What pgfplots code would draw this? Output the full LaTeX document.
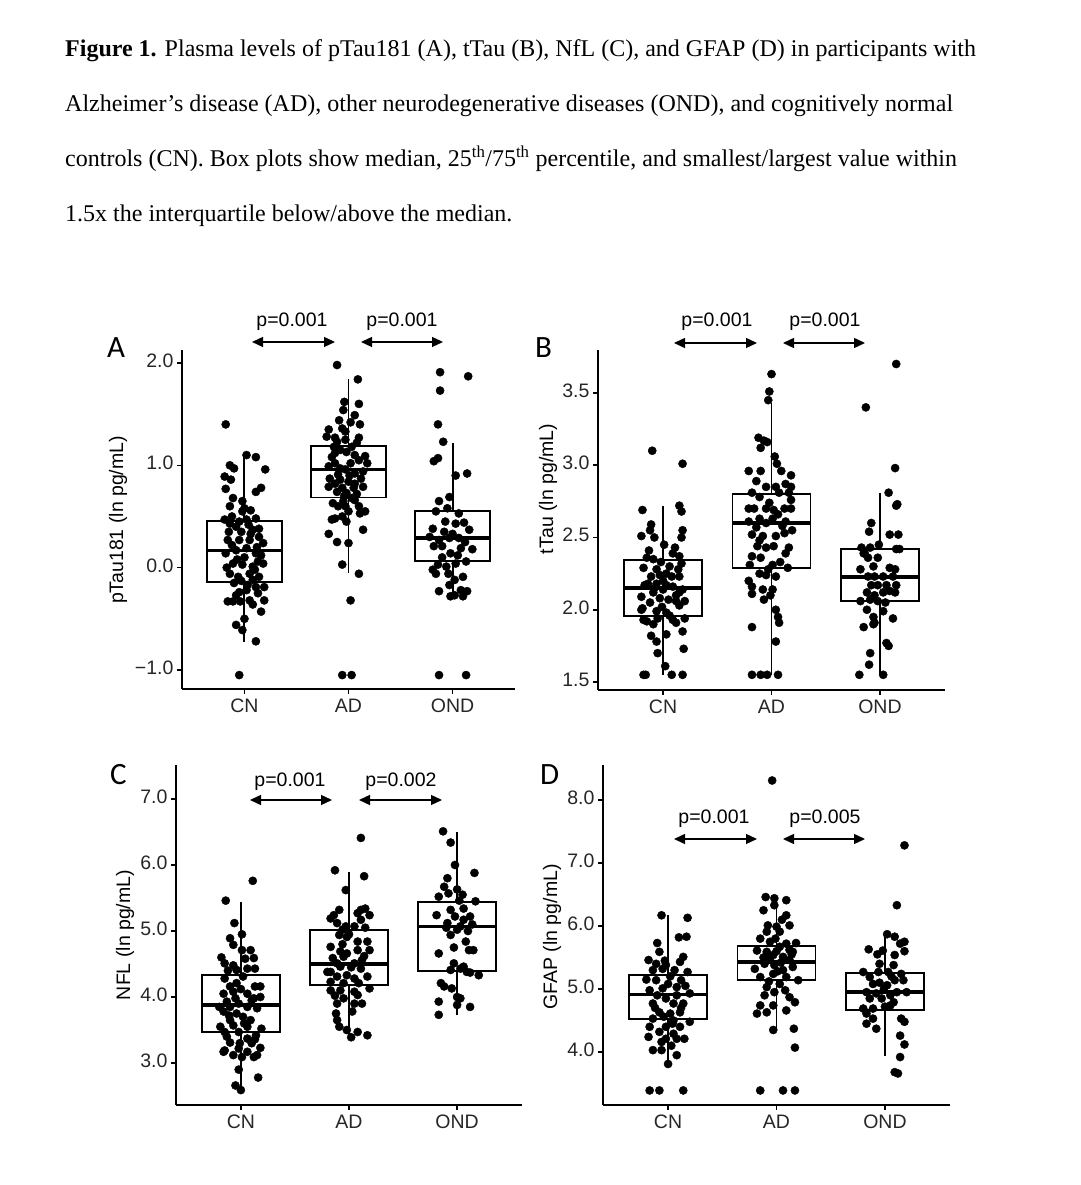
\documentclass[border=0pt]{standalone}
\usepackage{fontspec}
\setmainfont{Liberation Serif}
\newfontfamily\arial{Liberation Sans}
\newfontfamily\calibri{Carlito}
\usepackage{pgfplots}
\pgfplotsset{compat=1.18}
\usepgfplotslibrary{statistics}
\usetikzlibrary{arrows.meta}

\newcommand\tf{\arial\fontsize{19.5}{22}\selectfont}
\newcommand\capf{\fontsize{24}{27}\selectfont}
\newcommand\letf{\calibri\fontsize{31}{34}\selectfont}

\pgfplotsset{
  panel/.style={
    scale only axis, clip=false,
    xmin=0.4, xmax=3.6,
    axis x line*=bottom, axis y line*=left,
    axis line style={line width=1.8pt,-},
    tick align=outside, major tick length=5pt,
    tick style={line width=1.6pt, black},
    xtick={1,2,3}, xticklabels={CN,AD,OND},
    tick label style={font=\tf, text=black!85},
    typeset ticklabels with strut,
    boxplot/draw direction=y,
    boxplot/box extend=0.72, boxplot/whisker extend=0,
    boxplot/every median/.style={line width=3.4pt},
  },
  bx/.style={draw=black, line width=1.9pt, solid, mark=none},
  pts/.style={only marks, mark=*, mark size=4.1pt, black, mark options={draw=none, fill=black}},
}
\tikzset{parr/.style={line width=1.3pt, {Triangle[length=11pt,width=10pt]}-{Triangle[length=11pt,width=10pt]}}}

\begin{document}
\begin{tikzpicture}[x=1pt,y=1pt]
\path[use as bounding box] (0,0) rectangle (1080,1185);

% caption
\node[anchor=base west, inner sep=0] at (65,1128) {\capf\textbf{Figure 1.} Plasma levels of pTau181 (A), tTau (B), NfL (C), and GFAP (D) in participants with};
\node[anchor=base west, inner sep=0] at (65,1073) {\capf Alzheimer’s disease (AD), other neurodegenerative diseases (OND), and cognitively normal};
\node[anchor=base west, inner sep=0] at (65,1018) {\capf controls (CN). Box plots show median, 25\textsuperscript{th}/75\textsuperscript{th} percentile, and smallest/largest value within};
\node[anchor=base west, inner sep=0] at (65,963) {\capf 1.5x the interquartile below/above the median.};

% ---------------- Panel A ----------------
\begin{axis}[panel, at={(182pt,496pt)}, anchor=south west, width=333pt, height=339pt,
  ymin=-1.186, ymax=2.127, ytick={-1,0,1,2}, yticklabels={−1.0,0.0,1.0,2.0}]
\addplot[bx, boxplot prepared={draw position=1, median=0.166, upper quartile=0.453, lower quartile=-0.14, upper whisker=1.11, lower whisker=-0.724}] coordinates {};
\addplot[bx, boxplot prepared={draw position=2, median=0.96, upper quartile=1.19, lower quartile=0.685, upper whisker=1.84, lower whisker=-0.055}] coordinates {};
\addplot[bx, boxplot prepared={draw position=3, median=0.29, upper quartile=0.55, lower quartile=0.065, upper whisker=1.22, lower whisker=-0.28}] coordinates {};
\addplot[pts] coordinates {
(0.82,1.40)(1.02,1.10)(1.11,1.08)(1.20,0.96)(0.86,1.00)(0.90,0.97)(0.81,0.89)(0.87,0.86)(0.82,0.77)(1.11,0.74)
(1.16,0.78)(0.89,0.68)(0.98,0.65)(1.06,0.56)(0.98,0.55)(0.81,0.47)(0.86,0.43)(0.92,0.40)(1.02,0.47)(1.11,0.48)
(1.08,0.37)(1.14,0.38)(0.88,0.50)(0.95,0.45)(1.14,0.30)(1.18,0.24)(1.11,0.14)(1.02,0.19)(0.92,0.17)(0.82,0.14)
(0.84,0.27)(0.95,0.27)(1.05,0.27)(0.89,0.04)(0.98,0.03)(1.18,0.04)(1.08,0.01)(1.13,0.06)(0.86,-0.06)(0.94,-0.09)
(1.05,-0.06)(1.14,-0.09)(0.90,-0.15)(1.03,-0.17)(1.02,-0.22)(1.11,-0.19)(1.19,-0.19)(1.13,-0.25)(0.92,-0.27)(0.89,-0.33)
(0.96,-0.33)(1.05,-0.32)(1.19,-0.32)(1.16,-0.43)(1.00,-0.50)(0.92,-0.56)(0.98,-0.61)(1.11,-0.72)(0.95,-1.05)
(0.97,0.35)(1.06,0.33)(0.85,0.35)(1.16,0.12)(0.93,0.08)(1.00,0.10)(1.10,-0.02)(0.83,0.00)(0.97,-0.13)(1.08,-0.12)
(0.86,0.60)(1.00,0.58)(1.04,0.42)(0.88,0.22)(1.12,0.20)(0.95,-0.24)(1.08,-0.36)(0.84,-0.33)
};
\addplot[pts] coordinates {
(1.89,1.98)(2.09,1.84)(1.96,1.62)(2.10,1.60)(1.95,1.54)(2.06,1.49)(1.91,1.44)(2.02,1.42)(2.11,1.40)(1.81,1.35)
(1.94,1.36)(1.97,1.33)(1.79,1.28)(1.87,1.27)(2.10,1.27)(1.97,1.25)(1.89,1.23)(1.86,1.18)(2.03,1.18)(1.92,1.15)
(1.98,1.13)(1.87,1.12)(2.06,1.10)(2.16,1.09)(2.10,1.05)(1.87,1.02)(2.02,1.02)(2.18,1.02)(1.81,0.99)(1.92,0.97)
(1.97,0.96)(2.06,0.92)(2.14,0.94)(1.82,0.87)(1.92,0.86)(2.00,0.84)(2.06,0.82)(1.87,0.82)(1.81,0.79)(1.94,0.78)
(2.05,0.78)(2.14,0.79)(1.89,0.74)(1.98,0.73)(2.03,0.68)(1.95,0.65)(2.06,0.66)(1.97,0.60)(2.10,0.60)(2.16,0.55)
(2.11,0.53)(1.87,0.48)(1.94,0.50)(1.84,0.47)(1.98,0.45)(1.81,0.33)(1.89,0.25)(2.00,0.24)(2.14,0.37)(1.94,0.03)
(2.10,-0.06)(2.02,-0.32)(1.94,-1.05)(2.03,-1.05)
(2.08,1.22)(1.84,1.08)(2.12,0.87)(1.90,0.91)(2.01,0.90)(1.96,0.70)(2.08,0.72)(1.85,0.63)(2.00,0.55)(1.90,0.60)
};
\addplot[pts] coordinates {
(2.88,1.91)(3.15,1.87)(2.88,1.73)(2.86,1.40)(2.91,1.23)(2.86,1.07)(2.82,1.04)(3.03,0.90)(3.14,0.92)(2.97,0.69)
(2.87,0.65)(2.84,0.55)(2.95,0.58)(3.06,0.53)(2.81,0.38)(2.92,0.35)(3.03,0.43)(3.11,0.44)(3.16,0.37)(2.78,0.30)
(2.87,0.27)(2.97,0.29)(3.06,0.29)(2.82,0.21)(2.90,0.21)(2.98,0.14)(3.08,0.19)(3.19,0.18)(2.94,0.01)(2.86,0.03)
(3.13,0.06)(3.03,0.04)(2.81,-0.02)(2.84,-0.06)(3.10,-0.09)(3.02,-0.12)(2.97,-0.17)(3.08,-0.22)(2.87,-0.23)(3.14,-0.23)
(3.02,-0.27)(3.10,-0.28)(2.98,-0.28)(2.87,-1.05)(3.13,-1.05)
(2.93,0.45)(3.00,0.33)(3.12,0.25)(2.90,0.10)(3.05,0.12)(2.96,-0.06)
};
\end{axis}

% ---------------- Panel B ----------------
\begin{axis}[panel, at={(598pt,495pt)}, anchor=south west, width=347pt, height=340pt,
  ymin=1.445, ymax=3.797, ytick={1.5,2,2.5,3,3.5}, yticklabels={1.5,2.0,2.5,3.0,3.5}]
\addplot[bx, boxplot prepared={draw position=1, median=2.15, upper quartile=2.346, lower quartile=1.958, upper whisker=2.72, lower whisker=1.55}] coordinates {};
\addplot[bx, boxplot prepared={draw position=2, median=2.60, upper quartile=2.80, lower quartile=2.29, upper whisker=3.43, lower whisker=1.55}] coordinates {};
\addplot[bx, boxplot prepared={draw position=3, median=2.226, upper quartile=2.42, lower quartile=2.062, upper whisker=2.81, lower whisker=1.55}] coordinates {};
\addplot[pts] coordinates {
(0.90,3.10)(1.18,3.01)(0.81,2.69)(1.15,2.72)(1.17,2.68)(0.89,2.59)(0.88,2.55)(0.80,2.51)(0.92,2.50)(1.18,2.55)
(1.17,2.50)(1.01,2.45)(1.11,2.43)(1.09,2.39)(0.85,2.36)(0.91,2.35)(1.15,2.37)(1.17,2.32)(0.82,2.29)(0.94,2.28)
(1.03,2.25)(0.97,2.24)(0.89,2.23)(1.08,2.23)(1.15,2.23)(0.86,2.18)(0.83,2.17)(0.94,2.18)(1.03,2.17)(1.09,2.16)
(1.00,2.14)(0.91,2.12)(1.15,2.12)(1.18,2.14)(0.80,2.09)(0.97,2.08)(1.05,2.07)(1.12,2.06)(1.20,2.06)(1.15,2.03)
(0.81,2.01)(0.80,2.00)(0.94,1.99)(1.03,1.98)(0.95,1.94)(1.09,1.93)(1.20,1.94)(0.82,1.93)(0.85,1.92)(1.12,1.91)
(0.91,1.90)(0.89,1.82)(0.94,1.78)(1.03,1.83)(1.18,1.85)(0.95,1.70)(1.19,1.73)(1.02,1.61)(0.82,1.55)(0.84,1.55)
(1.08,1.55)(1.18,1.55)
(0.98,2.33)(1.06,2.30)(0.87,2.41)(1.00,2.20)(1.12,2.10)(0.88,2.05)(1.06,1.96)(0.99,2.02)(1.14,2.28)(0.92,2.15)
};
\addplot[pts] coordinates {
(2.00,3.63)(1.98,3.51)(1.97,3.45)(1.88,3.19)(1.96,3.16)(1.93,3.17)(1.90,3.12)(2.03,3.06)(2.05,3.01)(1.79,2.96)
(1.90,2.96)(2.09,2.96)(2.18,2.93)(1.86,2.89)(1.95,2.85)(2.04,2.85)(2.13,2.87)(2.18,2.85)(1.82,2.81)(1.89,2.78)
(2.07,2.81)(2.16,2.81)(2.18,2.76)(1.79,2.70)(1.84,2.70)(1.95,2.70)(2.02,2.69)(2.12,2.70)(2.18,2.70)(2.06,2.66)
(1.89,2.63)(2.01,2.63)(1.79,2.61)(1.95,2.60)(2.13,2.61)(1.82,2.52)(1.92,2.51)(2.04,2.51)(2.12,2.53)(1.89,2.48)
(2.19,2.55)(1.95,2.43)(2.02,2.44)(2.16,2.43)(2.13,2.39)(1.87,2.44)(1.82,2.37)(1.90,2.36)(1.80,2.31)(2.01,2.31)
(2.15,2.29)(1.89,2.25)(1.95,2.24)(1.79,2.20)(2.04,2.23)(1.82,2.16)(1.92,2.14)(2.01,2.14)(1.82,2.11)(1.99,2.10)
(1.93,2.07)(2.04,2.00)(2.06,1.95)(2.07,1.91)(1.82,1.88)(2.04,1.78)(1.82,1.55)(1.90,1.55)(1.96,1.55)(2.06,1.55)
(2.10,2.58)(1.86,2.57)(1.98,2.74)(2.08,2.33)(1.97,2.28)
};
\addplot[pts] coordinates {
(3.15,3.70)(2.87,3.40)(3.14,2.98)(3.08,2.81)(3.16,2.73)(3.15,2.72)(2.92,2.60)(2.90,2.54)(3.09,2.52)(3.17,2.52)
(2.99,2.45)(2.83,2.43)(2.91,2.43)(2.86,2.39)(3.15,2.42)(3.18,2.42)(2.98,2.36)(2.89,2.36)(2.85,2.39)(2.94,2.30)
(2.82,2.28)(3.09,2.29)(3.14,2.28)(2.89,2.23)(2.95,2.23)(3.03,2.23)(3.12,2.23)(2.92,2.17)(2.98,2.17)(3.06,2.17)
(3.15,2.17)(2.88,2.12)(2.95,2.10)(3.03,2.12)(3.09,2.13)(3.14,2.12)(2.82,2.06)(2.91,2.07)(2.98,2.06)(3.05,2.05)
(2.88,2.00)(3.03,1.99)(2.94,1.95)(3.12,1.94)(2.95,1.91)(2.85,1.88)(2.94,1.90)(3.06,1.77)(3.08,1.75)(2.91,1.70)
(2.90,1.62)(2.81,1.55)(3.03,1.55)
};
\end{axis}

% ---------------- Panel C ----------------
\begin{axis}[panel, at={(176pt,80pt)}, anchor=south west, width=346pt, height=340pt,
  ymin=2.364, ymax=7.515, ytick={3,4,5,6,7}, yticklabels={3.0,4.0,5.0,6.0,7.0}]
\addplot[bx, boxplot prepared={draw position=1, median=3.877, upper quartile=4.333, lower quartile=3.473, upper whisker=5.445, lower whisker=2.588}] coordinates {};
\addplot[bx, boxplot prepared={draw position=2, median=4.499, upper quartile=5.015, lower quartile=4.181, upper whisker=5.90, lower whisker=3.397}] coordinates {};
\addplot[bx, boxplot prepared={draw position=3, median=5.066, upper quartile=5.445, lower quartile=4.393, upper whisker=6.507, lower whisker=3.726}] coordinates {};
\addplot[pts] coordinates {
(1.11,5.76)(0.86,5.46)(0.94,5.12)(0.90,4.89)(1.01,4.95)(0.93,4.79)(0.82,4.60)(1.01,4.71)(1.09,4.71)(1.12,4.59)
(0.85,4.51)(0.93,4.48)(0.96,4.41)(1.06,4.43)(1.13,4.43)(0.85,4.28)(1.02,4.31)(0.96,4.21)(0.90,4.16)(1.13,4.16)
(1.18,4.16)(0.84,4.05)(0.93,4.08)(1.06,4.05)(1.12,3.98)(1.18,4.00)(0.87,3.93)(0.98,3.90)(0.90,3.85)(0.80,3.85)
(1.06,3.85)(1.15,3.83)(0.84,3.78)(0.96,3.75)(1.02,3.70)(0.90,3.65)(1.09,3.65)(0.81,3.55)(0.93,3.57)(1.06,3.55)
(1.19,3.52)(0.85,3.47)(0.98,3.47)(0.87,3.40)(1.06,3.37)(1.13,3.36)(0.90,3.31)(0.99,3.30)(1.10,3.30)(0.85,3.19)
(0.98,3.22)(1.06,3.17)(1.18,3.23)(1.15,3.12)(0.93,3.12)(0.84,3.17)(1.01,3.09)(1.12,3.09)(0.98,2.90)(1.16,2.78)
(0.95,2.66)(1.00,2.59)
(1.04,4.58)(0.88,4.40)(1.10,3.95)(0.95,3.98)(1.03,3.60)(0.89,3.72)(1.14,3.42)(1.00,4.12)
};
\addplot[pts] coordinates {
(2.11,6.41)(1.87,5.92)(2.14,5.83)(1.97,5.62)(1.91,5.32)(1.86,5.24)(1.83,5.19)(2.11,5.32)(2.15,5.34)(2.19,5.24)
(2.08,5.27)(2.11,5.17)(1.89,5.12)(1.97,5.07)(1.94,5.02)(2.05,5.07)(1.91,4.94)(1.98,4.91)(2.08,4.84)(2.17,4.84)
(1.83,4.76)(1.92,4.69)(1.98,4.66)(2.19,4.71)(2.08,4.71)(1.85,4.59)(1.95,4.61)(1.89,4.51)(2.05,4.51)(2.12,4.56)
(1.92,4.46)(1.83,4.38)(2.11,4.43)(1.80,4.38)(1.89,4.31)(1.98,4.33)(2.05,4.28)(2.17,4.31)(1.83,4.23)(1.95,4.21)
(2.09,4.21)(2.19,4.13)(1.92,4.10)(2.05,4.08)(1.83,4.10)(2.08,4.03)(1.95,3.98)(1.89,3.90)(2.12,3.90)(2.05,3.90)
(2.03,3.78)(1.88,3.75)(1.89,3.65)(1.91,3.55)(1.98,3.50)(2.08,3.47)(2.02,3.39)(2.17,3.42)
(1.94,4.80)(2.02,4.45)(2.14,4.62)(1.87,4.02)(2.00,4.95)(2.15,5.05)
};
\addplot[pts] coordinates {
(2.87,6.51)(2.94,6.34)(2.98,6.00)(3.16,5.88)(2.91,5.80)(2.88,5.67)(3.00,5.63)(2.92,5.57)(2.83,5.52)(3.02,5.46)
(3.17,5.45)(2.81,5.24)(2.94,5.32)(3.06,5.34)(3.12,5.22)(2.98,5.22)(2.91,5.12)(3.03,5.07)(3.06,5.17)(2.94,4.94)
(3.00,5.02)(3.08,4.84)(3.15,4.71)(3.11,4.71)(2.83,4.66)(2.97,4.51)(3.06,4.46)(3.09,4.38)(2.94,4.41)(3.03,4.43)
(3.20,4.33)(3.12,4.37)(2.85,4.21)(2.88,4.16)(2.95,4.13)(3.00,4.00)(2.83,3.93)(3.03,3.98)(3.00,3.88)(3.12,3.85)
(2.83,3.73)
(3.05,5.55)(2.90,5.05)(3.10,5.00)(2.97,4.75)(3.14,5.10)
};
\end{axis}

% ---------------- Panel D ----------------
\begin{axis}[panel, at={(603pt,80pt)}, anchor=south west, width=347pt, height=340pt,
  ymin=3.159, ymax=8.556, ytick={4,5,6,7,8}, yticklabels={4.0,5.0,6.0,7.0,8.0}]
\addplot[bx, boxplot prepared={draw position=1, median=4.91, upper quartile=5.217, lower quartile=4.528, upper whisker=6.171, lower whisker=3.813}] coordinates {};
\addplot[bx, boxplot prepared={draw position=2, median=5.429, upper quartile=5.683, lower quartile=5.148, upper whisker=6.40, lower whisker=4.37}] coordinates {};
\addplot[bx, boxplot prepared={draw position=3, median=4.952, upper quartile=5.26, lower quartile=4.672, upper whisker=5.87, lower whisker=3.93}] coordinates {};
\addplot[pts] coordinates {
(0.94,6.17)(1.18,6.13)(1.10,5.82)(1.17,5.83)(0.90,5.73)(0.92,5.59)(0.82,5.46)(0.89,5.40)(0.98,5.38)(1.14,5.51)
(1.11,5.43)(0.86,5.30)(0.95,5.32)(1.06,5.30)(1.18,5.27)(0.80,5.15)(0.89,5.14)(1.00,5.08)(1.12,5.14)(1.08,5.03)
(0.83,4.98)(0.95,5.01)(1.08,4.90)(1.20,4.93)(0.86,4.77)(0.98,4.85)(1.05,4.77)(1.14,4.77)(0.92,4.63)(1.02,4.61)
(1.11,4.63)(1.20,4.48)(0.86,4.53)(1.05,4.50)(0.98,4.40)(1.11,4.40)(0.83,4.40)(0.92,4.32)(1.05,4.29)(0.82,4.24)
(1.08,4.21)(1.15,4.21)(0.98,4.21)(1.03,4.10)(0.94,4.16)(0.86,4.03)(0.94,4.03)(1.08,3.95)(1.00,3.81)(0.83,3.39)
(0.92,3.39)(1.14,3.39)
(1.02,5.20)(0.90,4.90)(1.12,4.70)(0.96,4.56)(1.16,5.05)(0.88,4.70)(1.04,4.45)(0.97,5.45)
};
\addplot[pts] coordinates {
(1.96,8.31)(1.90,6.46)(1.98,6.44)(2.09,6.41)(1.88,6.25)(1.98,6.33)(2.09,6.17)(1.92,6.01)(2.00,5.99)(2.12,6.01)
(1.91,5.91)(2.03,5.91)(1.85,5.80)(1.94,5.75)(2.03,5.67)(2.09,5.72)(2.18,5.73)(1.82,5.61)(1.91,5.59)(2.15,5.59)
(1.97,5.54)(2.06,5.51)(2.12,5.46)(1.89,5.40)(1.98,5.38)(2.15,5.35)(1.80,5.32)(2.06,5.30)(1.85,5.19)(1.97,5.24)
(2.09,5.19)(2.20,5.14)(2.03,5.08)(1.91,5.03)(2.08,4.98)(1.98,4.95)(2.12,4.87)(1.89,4.90)(1.97,4.74)(1.85,4.74)
(1.82,4.61)(1.91,4.63)(2.17,4.79)(2.09,4.66)(1.97,4.35)(2.16,4.37)(2.17,4.07)(1.85,3.39)(2.06,3.39)(2.17,3.39)
(2.00,5.60)(1.94,5.48)(2.04,5.42)(1.88,5.50)(2.14,5.55)(2.01,5.28)(1.93,5.12)(2.12,5.62)(1.99,5.80)(2.05,6.10)
};
\addplot[pts] coordinates {
(3.18,7.28)(3.11,6.33)(3.02,5.87)(3.09,5.83)(3.14,5.72)(3.18,5.75)(2.85,5.63)(2.98,5.61)(3.09,5.54)(3.18,5.60)
(2.95,5.40)(3.08,5.38)(2.80,5.27)(2.86,5.19)(2.94,5.27)(3.03,5.27)(3.15,5.24)(2.89,5.08)(3.02,5.06)(3.09,5.14)
(3.17,5.14)(2.83,4.95)(2.92,4.93)(3.05,4.90)(3.11,4.95)(3.20,4.95)(2.86,4.85)(2.97,4.85)(3.08,4.79)(2.80,4.69)
(2.89,4.69)(3.05,4.74)(2.83,4.61)(2.89,4.53)(3.15,4.53)(3.18,4.48)(2.83,4.45)(2.92,4.37)(3.14,4.26)(3.18,4.12)
(3.14,3.92)(3.09,3.68)(3.12,3.66)
(2.99,5.00)(3.06,5.20)(2.93,5.55)(3.00,4.72)(2.95,5.10)
};
\end{axis}

% y axis titles
\node[rotate=90, inner sep=0] at (118,665) {\tf pTau181 (ln pg/mL)};
\node[rotate=90, inner sep=0] at (548,696) {\tf tTau (ln pg/mL)};
\node[rotate=90, inner sep=0] at (125,250) {\tf NFL (ln pg/mL)};
\node[rotate=90, inner sep=0] at (552,248) {\tf GFAP (ln pg/mL)};

% panel letters
\node[anchor=base west, inner sep=0] at (107,827) {\letf A};
\node[anchor=base west, inner sep=0] at (535,827) {\letf B};
\node[anchor=base west, inner sep=0] at (110,400) {\letf C};
\node[anchor=base west, inner sep=0] at (540,400) {\letf D};

% p-value annotations
\draw[parr] (252,843) -- (335,843);
\draw[parr] (361,843) -- (443,843);
\node[anchor=base, inner sep=0] at (292,858) {\tf p=0.001};
\node[anchor=base, inner sep=0] at (402,858) {\tf p=0.001};

\draw[parr] (674,842) -- (757,842);
\draw[parr] (783,842) -- (865,842);
\node[anchor=base, inner sep=0] at (717,858) {\tf p=0.001};
\node[anchor=base, inner sep=0] at (825,858) {\tf p=0.001};

\draw[parr] (250,385) -- (332,385);
\draw[parr] (359,385) -- (442,385);
\node[anchor=base, inner sep=0] at (290,398) {\tf p=0.001};
\node[anchor=base, inner sep=0] at (401,398) {\tf p=0.002};

\draw[parr] (674,346) -- (757,346);
\draw[parr] (783,346) -- (865,346);
\node[anchor=base, inner sep=0] at (714,361) {\tf p=0.001};
\node[anchor=base, inner sep=0] at (825,361) {\tf p=0.005};
\end{tikzpicture}
\end{document}
